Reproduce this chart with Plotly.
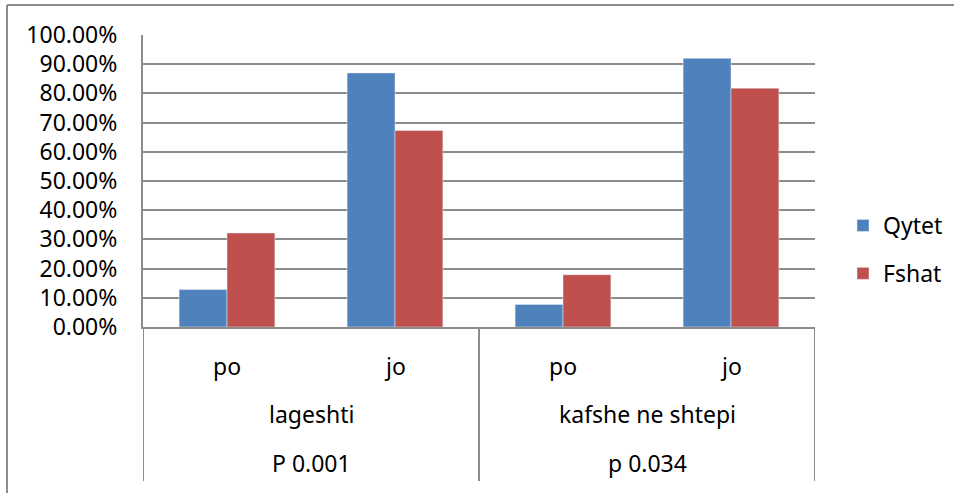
import plotly.graph_objects as go

# Survey answers by residence (share of respondents)
answers = ["po", "jo", "po", "jo"]
groups = ["lageshti", "kafshe ne shtepi"]
p_values = ["P 0.001", "p 0.034"]
qytet = [0.128, 0.870, 0.077, 0.920]
fshat = [0.322, 0.673, 0.179, 0.818]

BLUE = "#4F81BD"
RED = "#C0504D"
GRID = "#8C8C8C"
FONT = "Noto Sans"
FS = 23

W, H = 954, 493
L, R, T, B = 143, 139, 35, 166
plot_h = H - T - B
plot_w = W - L - R

def py(px):
    """pixel row -> paper y"""
    return (H - B - px) / plot_h

def px_x(px):
    """pixel column -> paper x"""
    return (px - L) / plot_w

xs = list(range(len(answers)))

fig = go.Figure()
fig.add_trace(go.Bar(x=xs, y=qytet, name="Qytet", marker_color=BLUE,
                     legendgroup="a"))
fig.add_trace(go.Bar(x=xs, y=fshat, name="Fshat", marker_color=RED,
                     legendgroup="b"))

shapes = []
annotations = []
txt = dict(size=FS, color="#000", family=FONT)

# answer labels under each pair of bars
for i, a in enumerate(answers):
    annotations.append(dict(x=i, xref="x", y=py(366), yref="paper", text=a,
                            showarrow=False, yanchor="middle", font=txt))

# group names and p-values, two answers per group
for g, (name, pv) in enumerate(zip(groups, p_values)):
    cx = 2 * g + 0.5
    annotations.append(dict(x=cx, xref="x", y=py(414), yref="paper", text=name,
                            showarrow=False, yanchor="middle", font=txt))
    annotations.append(dict(x=cx, xref="x", y=py(463), yref="paper", text=pv,
                            showarrow=False, yanchor="middle", font=txt))

# dividers between the groups of the category axis
for xv in [-0.5, 1.5, 3.5]:
    shapes.append(dict(type="line", xref="x", yref="paper", x0=xv, x1=xv,
                       y0=0, y1=py(481), line=dict(color=GRID, width=2)))

# outer chart frame (top and left edges)
shapes.append(dict(type="line", xref="paper", yref="paper",
                   x0=px_x(7), x1=px_x(960), y0=py(5), y1=py(5),
                   line=dict(color=GRID, width=2)))
shapes.append(dict(type="line", xref="paper", yref="paper",
                   x0=px_x(7), x1=px_x(7), y0=py(5), y1=py(500),
                   line=dict(color=GRID, width=2)))

fig.update_layout(
    width=W, height=H,
    margin=dict(l=L, r=R, t=T, b=B, autoexpand=False),
    paper_bgcolor="white", plot_bgcolor="white",
    barmode="group", bargap=0.43, bargroupgap=0,
    font=txt,
    showlegend=True,
    legend=dict(x=px_x(843), xanchor="left", y=py(204), yanchor="top",
                traceorder="grouped", tracegroupgap=15,
                font=txt, bgcolor="rgba(0,0,0,0)"),
    shapes=shapes, annotations=annotations,
)
fig.update_xaxes(range=[-0.5, 3.5], tickvals=xs, showticklabels=False,
                 showgrid=False, zeroline=False, showline=True,
                 linecolor=GRID, linewidth=2, ticks="")
fig.update_yaxes(range=[0, 1], dtick=0.1, tick0=0, tickformat=".2%",
                 showgrid=True, gridcolor=GRID, gridwidth=2,
                 zeroline=False, showline=True, linecolor=GRID, linewidth=2,
                 ticks="", ticklabelstandoff=19, tickfont=txt)

fig.write_html("out.html")
